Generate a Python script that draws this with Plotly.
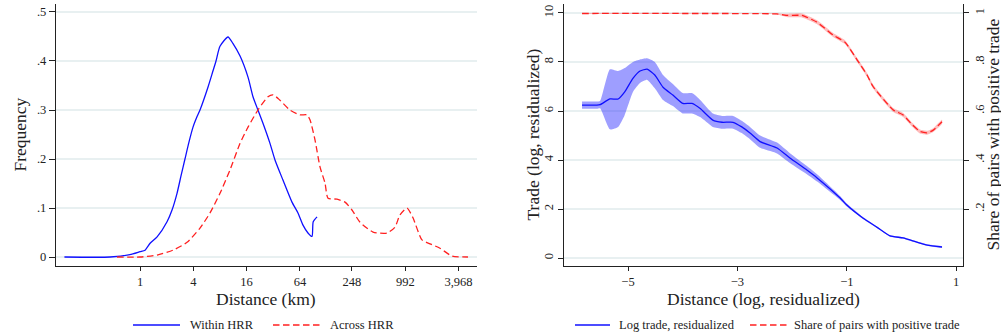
import plotly.graph_objects as go

# ---------------- Left panel: distance distributions (km) ----------------
within_km = [0.14, 0.46, 0.77, 1.0, 1.14, 1.30, 1.56, 2.02, 2.30, 2.62, 2.90, 3.22, 3.58,
             3.97, 4.40, 4.76, 5.87, 6.68, 7.22, 8.01, 9.86, 11.2, 13.5, 16.6, 18.9, 21.5,
             24.5, 29.4, 33.5, 41.2, 52.1, 60.9, 69.4, 79.0, 87.7, 90.5, 100]
within_freq = [0, 0, 0.005, 0.011, 0.014, 0.028, 0.041, 0.072, 0.096, 0.13, 0.165, 0.2, 0.235,
               0.265, 0.286, 0.3, 0.347, 0.38, 0.4, 0.43, 0.449, 0.436, 0.41, 0.367, 0.327, 0.3,
               0.273, 0.232, 0.198, 0.157, 0.112, 0.09, 0.065, 0.049, 0.042, 0.072, 0.082]

across_km = [0.55, 1.0, 1.56, 2.36, 3.40, 4.76, 6.18, 8.01, 10.4, 13.5, 16.6, 21.5, 27.9, 31.8,
             38.1, 49.4, 64.2, 76.9, 83.2, 94.8, 108, 123, 133, 168, 207, 248, 306, 429, 617,
             759, 865, 1038, 1213, 1532, 1887, 2447, 3344, 5070]
across_freq = [0, 0, 0.004, 0.014, 0.03, 0.059, 0.09, 0.13, 0.178, 0.232, 0.265, 0.3, 0.327, 0.331,
               0.32, 0.3, 0.29, 0.29, 0.28, 0.239, 0.184, 0.151, 0.12, 0.118, 0.112, 0.096, 0.071,
               0.051, 0.049, 0.061, 0.086, 0.1, 0.08, 0.035, 0.027, 0.018, 0.002, 0]

km_tickvals = [1, 4, 16, 64, 248, 992, 3968]
km_ticktext = ["1", "4", "16", "64", "248", "992", "3,968"]
freq_tickvals = [0, 0.1, 0.2, 0.3, 0.4, 0.5]
freq_ticktext = ["0", ".1", ".2", ".3", ".4", ".5"]

# ---------------- Right panel: trade vs residualized log distance ----------------
dist_log = [-5.84, -5.57, -5.51, -5.33, -5.18, -5.06, -4.91, -4.78, -4.65, -4.51, -4.36, -4.18,
            -4.00, -3.83, -3.68, -3.45, -3.28, -3.08, -2.92, -2.77, -2.585, -2.275, -2.04,
            -1.73, -1.543, -1.122, -1.00, -0.70, -0.445, -0.21, 0.03, 0.28, 0.47, 0.74]
log_trade = [6.24, 6.24, 6.26, 6.49, 6.49, 6.78, 7.33, 7.63, 7.71, 7.47, 6.97, 6.65,
             6.31, 6.31, 6.10, 5.63, 5.54, 5.54, 5.35, 5.10, 4.75, 4.49, 4.08,
             3.59, 3.27, 2.45, 2.16, 1.62, 1.25, 0.90, 0.82, 0.65, 0.53, 0.45]
trade_lo = [6.09, 6.09, 6.11, 5.25, 5.35, 5.84, 6.78, 7.14, 7.27, 6.93, 6.45, 6.20,
            5.90, 5.90, 5.75, 5.35, 5.28, 5.28, 5.10, 4.85, 4.50, 4.27, 3.88,
            3.42, 3.12, 2.37, 2.10, 1.58, 1.22, 0.87, 0.79, 0.62, 0.50, 0.42]
trade_hi = [6.39, 6.39, 6.41, 7.70, 7.63, 7.75, 8.00, 8.10, 8.15, 8.00, 7.47, 7.10,
            6.73, 6.73, 6.45, 5.90, 5.80, 5.80, 5.60, 5.35, 5.00, 4.71, 4.28,
            3.76, 3.42, 2.53, 2.22, 1.66, 1.28, 0.93, 0.85, 0.68, 0.56, 0.48]

share_x = [-5.84, -4.0, -2.28, -2.08, -1.82, -1.55, -1.25, -1.03, -0.81, -0.63, -0.52, -0.15,
           0.03, 0.20, 0.34, 0.47, 0.58, 0.74]
share_pos = [0.998, 0.998, 0.996, 0.99, 0.99, 0.963, 0.91, 0.88, 0.808, 0.747, 0.70, 0.604,
             0.584, 0.543, 0.516, 0.511, 0.522, 0.556]
share_lo = [0.996, 0.996, 0.994, 0.983, 0.982, 0.955, 0.902, 0.872, 0.800, 0.739, 0.692, 0.596,
            0.576, 0.535, 0.508, 0.503, 0.514, 0.548]
share_hi = [1.0, 1.0, 0.998, 0.997, 0.998, 0.971, 0.918, 0.888, 0.816, 0.755, 0.708, 0.612,
            0.592, 0.551, 0.524, 0.519, 0.530, 0.564]

dlog_tickvals = [-5, -3, -1, 1]
dlog_ticktext = ["\u22125", "\u22123", "\u22121", "1"]
trade_tickvals = [0, 2, 4, 6, 8, 10]
share_tickvals = [0.2, 0.4, 0.6, 0.8, 1.0]
share_ticktext = [".2", ".4", ".6", ".8", "1"]

# ---------------- styling ----------------
FONT = "Liberation Serif"
INK = "#222222"
GRID = "#e8f0f1"
BLUE = "#1010ff"
RED = "#ff2020"
DASH = "6.5px,3.5px"
W, H = 1001, 336

fig = go.Figure()

fig.add_trace(go.Scatter(x=within_km, y=within_freq, mode="lines", name="Within HRR",
                         line=dict(color=BLUE, width=1.3, shape="spline", smoothing=0.6),
                         xaxis="x", yaxis="y", showlegend=False))
fig.add_trace(go.Scatter(x=across_km, y=across_freq, mode="lines", name="Across HRR",
                         line=dict(color=RED, width=1.3, dash=DASH, shape="spline", smoothing=0.6),
                         xaxis="x", yaxis="y", showlegend=False))

# confidence bands
fig.add_trace(go.Scatter(x=dist_log + dist_log[::-1], y=trade_hi + trade_lo[::-1],
                         fill="toself", fillcolor="rgba(40,40,255,0.45)",
                         line=dict(width=0, shape="spline", smoothing=0.5), mode="lines",
                         hoverinfo="skip", xaxis="x2", yaxis="y2", showlegend=False))
fig.add_trace(go.Scatter(x=share_x + share_x[::-1], y=share_hi + share_lo[::-1],
                         fill="toself", fillcolor="rgba(255,60,60,0.35)",
                         line=dict(width=0, shape="spline", smoothing=0.5), mode="lines",
                         hoverinfo="skip", xaxis="x2", yaxis="y3", showlegend=False))

fig.add_trace(go.Scatter(x=dist_log, y=log_trade, mode="lines", name="Log trade, residualized",
                         line=dict(color=BLUE, width=1.3, shape="spline", smoothing=0.5),
                         xaxis="x2", yaxis="y2", showlegend=False))
fig.add_trace(go.Scatter(x=share_x, y=share_pos, mode="lines",
                         name="Share of pairs with positive trade",
                         line=dict(color=RED, width=1.3, dash=DASH, shape="spline", smoothing=0.5),
                         xaxis="x2", yaxis="y3", showlegend=False))

tick_font = dict(family=FONT, size=12.5, color=INK)
common = dict(showline=True, linecolor=INK, linewidth=1.4, ticks="outside",
              tickwidth=1.2, tickcolor=INK, tickfont=tick_font, zeroline=False)

ydom = [1 - 265.5 / H, 1 - 4 / H]

fig.update_layout(
    width=W, height=H,
    margin=dict(l=0, r=0, t=0, b=0),
    paper_bgcolor="white", plot_bgcolor="white",
    font=dict(family=FONT, color=INK),
    xaxis=dict(domain=[56 / W, 477 / W], anchor="y", type="log", range=[-0.949, 3.807],
               tickmode="array", tickvals=km_tickvals, ticktext=km_ticktext, showgrid=False,
               ticklen=4, **common),
    yaxis=dict(domain=ydom, anchor="x", range=[-0.0173, 0.5163], tickmode="array",
               tickvals=freq_tickvals, ticktext=freq_ticktext, showgrid=True, gridcolor=GRID,
               gridwidth=1.5, ticklen=6, **common),
    xaxis2=dict(domain=[564 / W, 963 / W], anchor="y2", range=[-6.17, 1.124], tickmode="array",
                tickvals=dlog_tickvals, ticktext=dlog_ticktext, showgrid=False,
                ticklen=4, **common),
    yaxis2=dict(domain=ydom, anchor="x2", range=[-0.306, 10.367], tickmode="array",
                tickvals=trade_tickvals, tickangle=-90, showgrid=True, gridcolor=GRID,
                gridwidth=1.5, ticklen=5, **common),
    yaxis3=dict(overlaying="y2", anchor="x2", side="right", range=[-0.0306, 1.0367],
                tickmode="array", tickvals=share_tickvals, ticktext=share_ticktext,
                tickangle=-90, showgrid=False, ticklen=5, **common),
)

# axis titles
title_font = dict(family=FONT, size=17.5, color=INK)
ymid = 1 - 134.5 / H
xt_y = 1 - 299 / H
fig.add_annotation(text="Frequency", x=19 / W, y=ymid, xref="paper", yref="paper",
                   textangle=-90, showarrow=False, font=title_font,
                   xanchor="center", yanchor="middle")
fig.add_annotation(text="Distance (km)", x=266 / W, y=xt_y, xref="paper", yref="paper",
                   showarrow=False, font=title_font, xanchor="center", yanchor="middle")
fig.add_annotation(text="Trade (log, residualized)", x=532 / W, y=ymid, xref="paper",
                   yref="paper", textangle=-90, showarrow=False, font=title_font,
                   xanchor="center", yanchor="middle")
fig.add_annotation(text="Share of pairs with positive trade", x=992 / W, y=ymid, xref="paper",
                   yref="paper", textangle=-90, showarrow=False, font=title_font,
                   xanchor="center", yanchor="middle")
fig.add_annotation(text="Distance (log, residualized)", x=763 / W, y=xt_y, xref="paper",
                   yref="paper", showarrow=False, font=title_font,
                   xanchor="center", yanchor="middle")

# legend keys beneath each panel
leg_y = 1 - 325 / H
leg_font = dict(family=FONT, size=12.5, color=INK)
legend_items = [
    (133, 180, BLUE, "solid", 188, "Within HRR"),
    (273, 320, RED, DASH, 328, "Across HRR"),
    (575, 610, BLUE, "solid", 617, "Log trade, residualized"),
    (750, 787, RED, DASH, 792, "Share of pairs with positive trade"),
]
for x0, x1, col, dash, tx, label in legend_items:
    fig.add_shape(type="line", xref="paper", yref="paper", x0=x0 / W, x1=x1 / W,
                  y0=leg_y, y1=leg_y, line=dict(color=col, width=1.3, dash=dash))
    fig.add_annotation(text=label, x=tx / W, y=leg_y, xref="paper", yref="paper",
                       showarrow=False, font=leg_font, xanchor="left", yanchor="middle")

fig.write_html("out.html")
